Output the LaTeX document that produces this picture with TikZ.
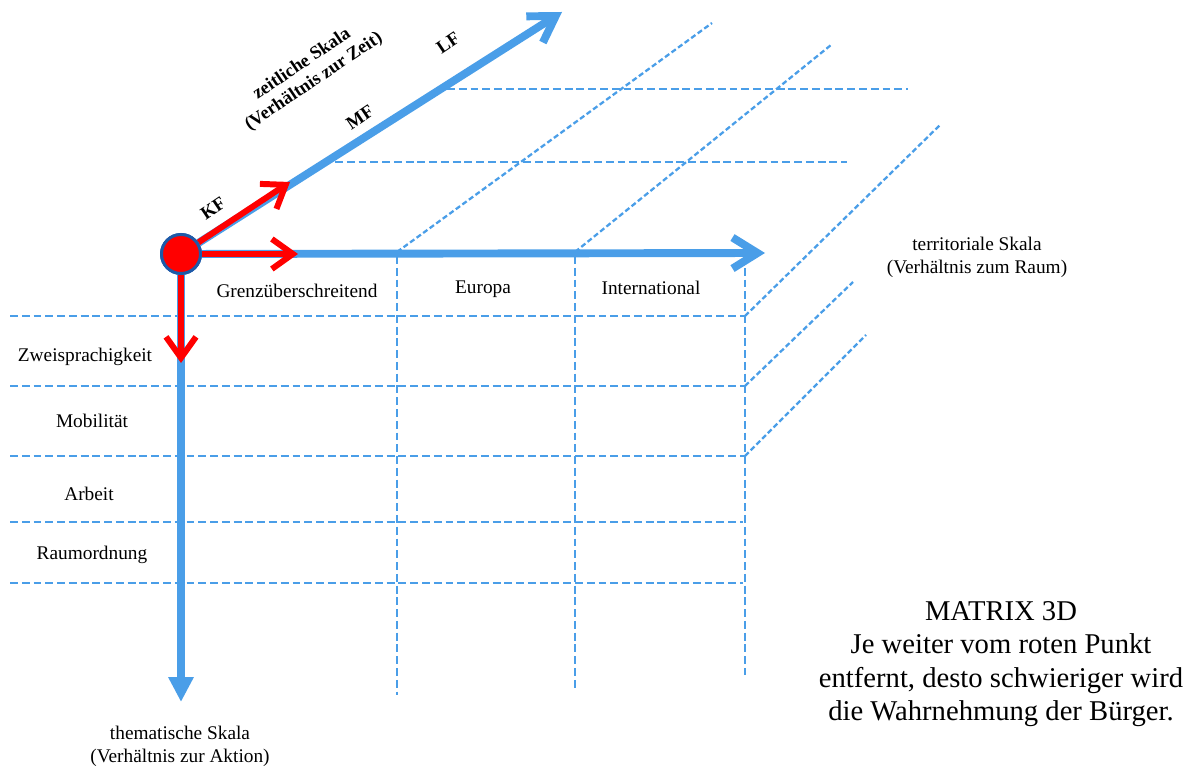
\documentclass[tikz,border=0pt]{standalone}
\usepackage{fontspec}
\setmainfont{Liberation Serif}
\usetikzlibrary{arrows.meta}
\definecolor{axisblue}{RGB}{74,158,232}
\definecolor{dotblue}{RGB}{30,90,168}

\begin{document}
\begin{tikzpicture}[x=0.02cm, y=-0.02cm,
  axis/.style={line width=4.5pt, axisblue},
  redaxis/.style={line width=3.4pt, red, -{Straight Barb[length=0.42cm, width=0.6cm]}},
  grid/.style={axisblue, line width=1.3pt, dash pattern=on 4.5pt off 2.2pt},
  dgrid/.style={axisblue, line width=1.3pt, dash pattern=on 3pt off 1.6pt},
  lab/.style={font=\fontsize{11}{13}\selectfont, align=center},
  tlab/.style={font=\bfseries\fontsize{10.5}{12}\selectfont, rotate=34, align=center}]
  \useasboundingbox (0,0) rectangle (1197,766);

  % front grid
  \foreach \y/\xr in {316/745, 386/745, 456/745, 522/743, 583/743}
    \draw[grid] (10,\y) -- (\xr,\y);
  \foreach \x/\yb in {397/695, 575/688, 745/675}
    \draw[grid] (\x,256) -- (\x,\yb);
  % depth lines
  \draw[dgrid] (397,252) -- (712,23);
  \draw[dgrid] (575,252) -- (831,45);
  \draw[dgrid] (745,316) -- (940,125);
  \draw[dgrid] (745,386) -- (853,282);
  \draw[dgrid] (745,456) -- (866,335);
  \draw[grid] (447,89) -- (908,89);
  \draw[grid] (335,162) -- (847,162);

  % origin and axes
  \node[circle, fill=red, draw=dotblue, line width=1.7pt, minimum size=0.78cm, inner sep=0pt] (O) at (181,254) {};
  \coordinate (kf) at (290,182);
  \coordinate (gr) at (298,254);
  \coordinate (zw) at (181,363);
  \coordinate (zt) at (562,12);
  \coordinate (rm) at (765,253);
  \coordinate (ak) at (181,702);
  \draw[axis, -{Straight Barb[length=0.5cm, width=0.62cm]}] (O) -- (zt);
  \draw[axis, -{Straight Barb[length=0.5cm, width=0.62cm]}] (O) -- (rm);
  \draw[axis, -{Triangle[length=0.5cm, width=0.48cm]}] (O) -- (ak);
  \draw[redaxis] (O) -- (kf);
  \draw[redaxis] (O) -- (gr);
  \draw[redaxis] (O) -- (zw);
  \node[circle, fill=red, draw=dotblue, line width=1.7pt, minimum size=0.78cm, inner sep=0pt] at (O) {};

  % time labels
  \node[tlab] (zeit) at (308,73) {zeitliche Skala\\(Verhältnis zur Zeit)};
  \node[tlab] (lf) at (448,43) {LF};
  \node[tlab] (mf) at (360,117) {MF};
  \node[tlab] (kflab) at (213,208) {KF};

  % territorial labels
  \node[lab] (grenz) at (297,291) {Grenzüberschreitend};
  \node[lab] (eur) at (483,289) {Europa};
  \node[lab] (intl) at (651,288) {International};
  \node[lab] (terr) at (977,257) {territoriale Skala\\(Verhältnis zum Raum)};

  % thematic labels
  \node[lab] (zwei) at (85,357) {Zweisprachigkeit};
  \node[lab] (mob) at (92,421) {Mobilität};
  \node[lab] (arb) at (89,494) {Arbeit};
  \node[lab] (raum) at (92,555) {Raumordnung};
  \node[lab] (them) at (180,746) {thematische Skala\\(Verhältnis zur Aktion)};

  % caption
  \node[align=center, font=\fontsize{16.3}{19}\selectfont] (cap) at (1001,664)
    {MATRIX 3D\\Je weiter vom roten Punkt\\entfernt, desto schwieriger wird\\die Wahrnehmung der Bürger.};
\end{tikzpicture}
\end{document}
